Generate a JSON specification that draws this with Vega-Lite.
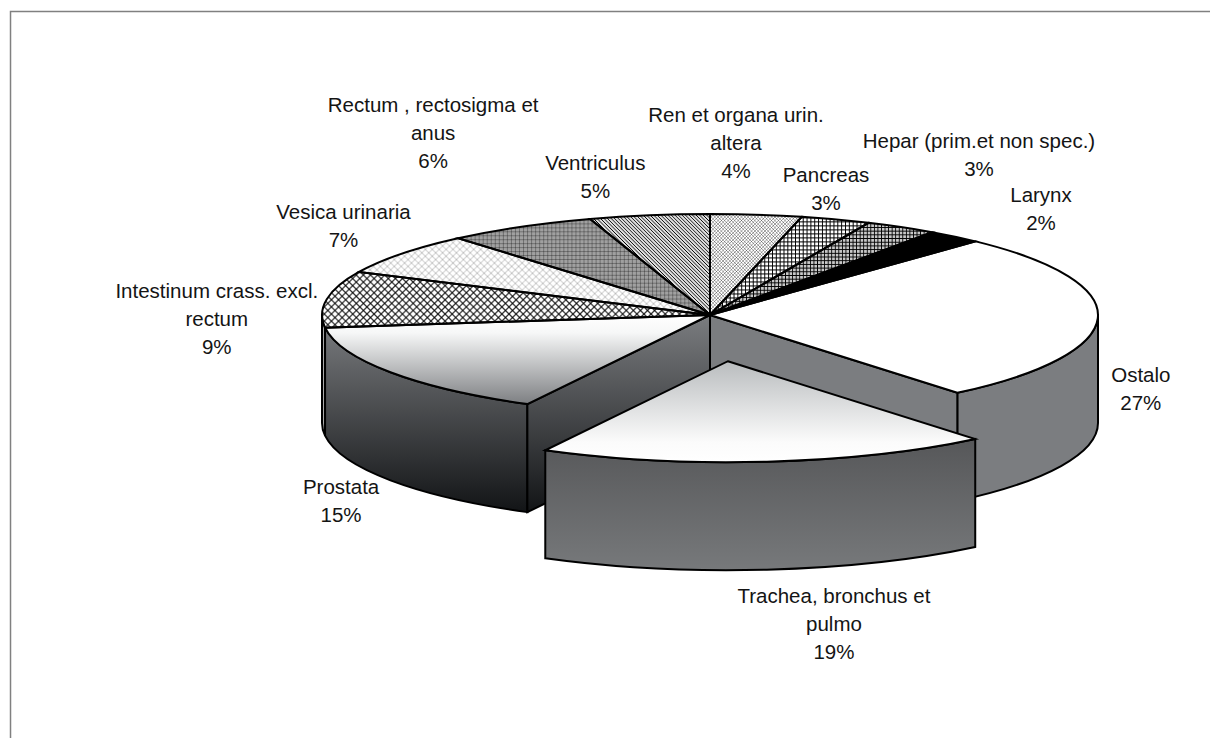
{"$schema":"https://vega.github.io/schema/vega-lite/v6.json","width":1210,"height":738,"padding":0,"autosize":"none","background":"white","view":{"stroke":null},
"config":{"point":{"opacity":1,"filled":true,"size":602176,"strokeWidth":2,"strokeJoin":"miter"},"text":{"font":"Liberation Sans","fontSize":20.5,"lineHeight":28,"lineBreak":"\n","baseline":"middle","align":"center","fill":"#141414"}},
"params":[{"name":"s","value":[
{"offset":0,"color":"#0000"},{"offset":0.004,"color":"#000"},{"offset":0.008,"color":"#0000"},
{"offset":0.016,"color":"#0000"},{"offset":0.02,"color":"#000"},{"offset":0.024,"color":"#0000"},
{"offset":0.032,"color":"#0000"},{"offset":0.036,"color":"#000"},{"offset":0.04,"color":"#0000"},
{"offset":0.048,"color":"#0000"},{"offset":0.052,"color":"#000"},{"offset":0.056,"color":"#0000"},
{"offset":0.064,"color":"#0000"},{"offset":0.068,"color":"#000"},{"offset":0.072,"color":"#0000"},
{"offset":0.08,"color":"#0000"},{"offset":0.084,"color":"#000"},{"offset":0.088,"color":"#0000"},
{"offset":0.096,"color":"#0000"},{"offset":0.1,"color":"#000"},{"offset":0.104,"color":"#0000"},
{"offset":0.112,"color":"#0000"},{"offset":0.116,"color":"#000"},{"offset":0.12,"color":"#0000"},
{"offset":0.128,"color":"#0000"},{"offset":0.132,"color":"#000"},{"offset":0.136,"color":"#0000"},
{"offset":0.144,"color":"#0000"},{"offset":0.148,"color":"#000"},{"offset":0.152,"color":"#0000"},
{"offset":0.16,"color":"#0000"},{"offset":0.164,"color":"#000"},{"offset":0.168,"color":"#0000"},
{"offset":0.176,"color":"#0000"},{"offset":0.18,"color":"#000"},{"offset":0.184,"color":"#0000"},
{"offset":0.192,"color":"#0000"},{"offset":0.196,"color":"#000"},{"offset":0.2,"color":"#0000"},
{"offset":0.208,"color":"#0000"},{"offset":0.212,"color":"#000"},{"offset":0.216,"color":"#0000"},
{"offset":0.224,"color":"#0000"},{"offset":0.228,"color":"#000"},{"offset":0.232,"color":"#0000"},
{"offset":0.24,"color":"#0000"},{"offset":0.244,"color":"#000"},{"offset":0.248,"color":"#0000"},
{"offset":0.256,"color":"#0000"},{"offset":0.26,"color":"#000"},{"offset":0.264,"color":"#0000"},
{"offset":0.272,"color":"#0000"},{"offset":0.276,"color":"#000"},{"offset":0.28,"color":"#0000"},
{"offset":0.288,"color":"#0000"},{"offset":0.292,"color":"#000"},{"offset":0.296,"color":"#0000"},
{"offset":0.304,"color":"#0000"},{"offset":0.308,"color":"#000"},{"offset":0.312,"color":"#0000"},
{"offset":0.32,"color":"#0000"},{"offset":0.324,"color":"#000"},{"offset":0.328,"color":"#0000"},
{"offset":0.336,"color":"#0000"},{"offset":0.34,"color":"#000"},{"offset":0.344,"color":"#0000"},
{"offset":0.352,"color":"#0000"},{"offset":0.356,"color":"#000"},{"offset":0.36,"color":"#0000"},
{"offset":0.368,"color":"#0000"},{"offset":0.372,"color":"#000"},{"offset":0.376,"color":"#0000"},
{"offset":0.384,"color":"#0000"},{"offset":0.388,"color":"#000"},{"offset":0.392,"color":"#0000"},
{"offset":0.4,"color":"#0000"},{"offset":0.404,"color":"#000"},{"offset":0.408,"color":"#0000"},
{"offset":0.416,"color":"#0000"},{"offset":0.42,"color":"#000"},{"offset":0.424,"color":"#0000"},
{"offset":0.432,"color":"#0000"},{"offset":0.436,"color":"#000"},{"offset":0.44,"color":"#0000"},
{"offset":0.448,"color":"#0000"},{"offset":0.452,"color":"#000"},{"offset":0.456,"color":"#0000"},
{"offset":0.464,"color":"#0000"},{"offset":0.468,"color":"#000"},{"offset":0.472,"color":"#0000"},
{"offset":0.48,"color":"#0000"},{"offset":0.484,"color":"#000"},{"offset":0.488,"color":"#0000"},
{"offset":0.496,"color":"#0000"},{"offset":0.5,"color":"#000"},{"offset":0.504,"color":"#0000"},
{"offset":0.512,"color":"#0000"},{"offset":0.516,"color":"#000"},{"offset":0.52,"color":"#0000"},
{"offset":0.528,"color":"#0000"},{"offset":0.532,"color":"#000"},{"offset":0.536,"color":"#0000"},
{"offset":0.544,"color":"#0000"},{"offset":0.548,"color":"#000"},{"offset":0.552,"color":"#0000"},
{"offset":0.56,"color":"#0000"},{"offset":0.564,"color":"#000"},{"offset":0.568,"color":"#0000"},
{"offset":0.576,"color":"#0000"},{"offset":0.58,"color":"#000"},{"offset":0.584,"color":"#0000"},
{"offset":0.592,"color":"#0000"},{"offset":0.596,"color":"#000"},{"offset":0.6,"color":"#0000"},
{"offset":0.608,"color":"#0000"},{"offset":0.612,"color":"#000"},{"offset":0.616,"color":"#0000"},
{"offset":0.624,"color":"#0000"},{"offset":0.628,"color":"#000"},{"offset":0.632,"color":"#0000"},
{"offset":0.64,"color":"#0000"},{"offset":0.644,"color":"#000"},{"offset":0.648,"color":"#0000"},
{"offset":0.656,"color":"#0000"},{"offset":0.66,"color":"#000"},{"offset":0.664,"color":"#0000"},
{"offset":0.672,"color":"#0000"},{"offset":0.676,"color":"#000"},{"offset":0.68,"color":"#0000"},
{"offset":0.688,"color":"#0000"},{"offset":0.692,"color":"#000"},{"offset":0.696,"color":"#0000"},
{"offset":0.704,"color":"#0000"},{"offset":0.708,"color":"#000"},{"offset":0.712,"color":"#0000"},
{"offset":0.72,"color":"#0000"},{"offset":0.724,"color":"#000"},{"offset":0.728,"color":"#0000"},
{"offset":0.736,"color":"#0000"},{"offset":0.74,"color":"#000"},{"offset":0.744,"color":"#0000"},
{"offset":0.752,"color":"#0000"},{"offset":0.756,"color":"#000"},{"offset":0.76,"color":"#0000"},
{"offset":0.768,"color":"#0000"},{"offset":0.772,"color":"#000"},{"offset":0.776,"color":"#0000"},
{"offset":0.784,"color":"#0000"},{"offset":0.788,"color":"#000"},{"offset":0.792,"color":"#0000"},
{"offset":0.8,"color":"#0000"},{"offset":0.804,"color":"#000"},{"offset":0.808,"color":"#0000"},
{"offset":0.816,"color":"#0000"},{"offset":0.82,"color":"#000"},{"offset":0.824,"color":"#0000"},
{"offset":0.832,"color":"#0000"},{"offset":0.836,"color":"#000"},{"offset":0.84,"color":"#0000"},
{"offset":0.848,"color":"#0000"},{"offset":0.852,"color":"#000"},{"offset":0.856,"color":"#0000"},
{"offset":0.864,"color":"#0000"},{"offset":0.868,"color":"#000"},{"offset":0.872,"color":"#0000"},
{"offset":0.88,"color":"#0000"},{"offset":0.884,"color":"#000"},{"offset":0.888,"color":"#0000"},
{"offset":0.896,"color":"#0000"},{"offset":0.9,"color":"#000"},{"offset":0.904,"color":"#0000"},
{"offset":0.912,"color":"#0000"},{"offset":0.916,"color":"#000"},{"offset":0.92,"color":"#0000"},
{"offset":0.928,"color":"#0000"},{"offset":0.932,"color":"#000"},{"offset":0.936,"color":"#0000"},
{"offset":0.944,"color":"#0000"},{"offset":0.948,"color":"#000"},{"offset":0.952,"color":"#0000"},
{"offset":0.96,"color":"#0000"},{"offset":0.964,"color":"#000"},{"offset":0.968,"color":"#0000"},
{"offset":0.976,"color":"#0000"},{"offset":0.98,"color":"#000"},{"offset":0.984,"color":"#0000"},
{"offset":0.992,"color":"#0000"},{"offset":0.996,"color":"#000"},{"offset":1,"color":"#0000"}
]}],
"data":{"values":[
{"i":0,"name":"Ren et organa urin.\naltera","pct":3.8},
{"i":1,"name":"Pancreas","pct":2.9},
{"i":2,"name":"Hepar (prim.et non spec.)","pct":3},
{"i":3,"name":"Larynx","pct":2.3},
{"i":4,"name":"Ostalo","pct":27},
{"i":5,"name":"Trachea, bronchus et\npulmo","pct":18.8},
{"i":6,"name":"Prostata","pct":15.2},
{"i":7,"name":"Intestinum crass. excl.\nrectum","pct":9},
{"i":8,"name":"Vesica urinaria","pct":6.75},
{"i":9,"name":"Rectum , rectosigma et\nanus","pct":6.25},
{"i":10,"name":"Ventriculus","pct":5}
]},
"transform":[
{"window":[{"op":"sum","field":"pct","as":"end"}],"sort":[{"field":"i"}]},
{"calculate":"2*PI*(datum.end-datum.pct)/100","as":"t0"},
{"calculate":"2*PI*datum.end/100","as":"t1"},
{"calculate":"(datum.t0+datum.t1)/2","as":"mid"},
{"calculate":"datum.i==5?0.46:0","as":"ex"},
{"calculate":"datum.ex*sin(datum.mid)","as":"ox"},
{"calculate":"-datum.ex*0.2603*cos(datum.mid)","as":"oy"},
{"calculate":"max(datum.t0,PI/2)","as":"w0"},
{"calculate":"min(datum.t1,3*PI/2)","as":"w1"},
{"calculate":"round(1e5*datum.ox)/1e5","as":"cx"},
{"calculate":"round(1e5*datum.oy)/1e5","as":"cy"},
{"calculate":"round(1e5*(datum.oy+0.2784))/1e5","as":"cyd"},
{"calculate":"round(1e5*(datum.ox+sin(datum.t0)))/1e5","as":"x0"},
{"calculate":"round(1e5*(datum.oy-0.2603*cos(datum.t0)))/1e5","as":"y0"},
{"calculate":"round(1e5*(datum.oy-0.2603*cos(datum.t0)+0.2784))/1e5","as":"y0d"},
{"calculate":"round(1e5*(datum.ox+sin(datum.t1)))/1e5","as":"x1"},
{"calculate":"round(1e5*(datum.oy-0.2603*cos(datum.t1)))/1e5","as":"y1"},
{"calculate":"round(1e5*(datum.oy-0.2603*cos(datum.t1)+0.2784))/1e5","as":"y1d"},
{"calculate":"round(1e5*(datum.ox+sin(datum.w0)))/1e5","as":"wx0"},
{"calculate":"round(1e5*(datum.oy-0.2603*cos(datum.w0)))/1e5","as":"wy0"},
{"calculate":"round(1e5*(datum.oy-0.2603*cos(datum.w0)+0.2784))/1e5","as":"wy0d"},
{"calculate":"round(1e5*(datum.ox+sin(datum.w1)))/1e5","as":"wx1"},
{"calculate":"round(1e5*(datum.oy-0.2603*cos(datum.w1)))/1e5","as":"wy1"},
{"calculate":"round(1e5*(datum.oy-0.2603*cos(datum.w1)+0.2784))/1e5","as":"wy1d"},
{"calculate":"'M'+datum.cx+','+datum.cy+'L'+datum.x0+','+datum.y0+'A1,0.2603,0,0,1,'+datum.x1+','+datum.y1+'Z'","as":"top"},
{"calculate":"'M'+datum.wx0+','+datum.wy0+'A1,0.2603,0,0,1,'+datum.wx1+','+datum.wy1+'L'+datum.wx1+','+datum.wy1d+'A1,0.2603,0,0,0,'+datum.wx0+','+datum.wy0d+'Z'","as":"wall"},
{"calculate":"'M'+datum.cx+','+datum.cy+'L'+datum.x0+','+datum.y0+'L'+datum.x0+','+datum.y0d+'L'+datum.cx+','+datum.cyd+'Z'","as":"cut0"},
{"calculate":"'M'+datum.cx+','+datum.cy+'L'+datum.x1+','+datum.y1+'L'+datum.x1+','+datum.y1d+'L'+datum.cx+','+datum.cyd+'Z'","as":"cut1"},
{"calculate":"388*sin(datum.mid)","as":"lx"},
{"calculate":"101*cos(datum.mid)","as":"ly"},
{"calculate":"datum.name+'\\n'+round(datum.pct)+'%'","as":"label"}
],
"layer":[
{"encoding":{
"x":{"datum":0,"type":"quantitative","scale":{"domain":[-710,500]},"axis":null},
"y":{"datum":0,"type":"quantitative","scale":{"domain":[-423,315]},"axis":null}
},"layer":[
{"transform":[{"filter":"datum.i==0"}],"mark":{"type":"point","shape":"M-1.8028,1.0902L-1.8028,-0.7822L1.2887,-0.7822","fill":"transparent","stroke":"#808080","strokeWidth":1.5}},
{"transform":[{"filter":"datum.i==4"}],"mark":{"type":"point","fill":"#7b7d80","stroke":"#000"},"encoding":{"shape":{"field":"wall","type":"nominal","scale":null}}},
{"transform":[{"filter":"datum.i==7"}],"mark":{"type":"point","fill":"#aaaaaa","stroke":"#000"},"encoding":{"shape":{"field":"wall","type":"nominal","scale":null}}},
{"transform":[{"filter":"datum.i==6"}],"mark":{"type":"point","fill":{"gradient":"linear","x1":1,"y1":0,"x2":1,"y2":1,"stops":[{"offset":0,"color":"#76787b"},{"offset":1,"color":"#121416"}]},"stroke":"#000"},"encoding":{"shape":{"field":"wall","type":"nominal","scale":null}}},
{"transform":[{"filter":"datum.i==4"}],"mark":{"type":"point","fill":"#7b7d80","stroke":"#000"},"encoding":{"shape":{"field":"cut1","type":"nominal","scale":null}}},
{"transform":[{"filter":"datum.i==6"}],"mark":{"type":"point","fill":{"gradient":"linear","x1":1,"y1":0,"x2":1,"y2":1,"stops":[{"offset":0,"color":"#7b7d80"},{"offset":1,"color":"#121416"}]},"stroke":"#000"},"encoding":{"shape":{"field":"cut0","type":"nominal","scale":null}}},
{"transform":[{"filter":"datum.i!=5"}],"mark":{"type":"point"},"encoding":{"shape":{"field":"top","type":"nominal","scale":null},"fill":{"field":"i","type":"nominal","legend":null,"scale":{"domain":[0,1,2,3,4,6,7,8,9,10],"range":["#ffffff","#ffffff","#c8c8c8","#000000","#ffffff","#ffffff","#ffffff","#ffffff","#a0a0a0","#dddddd"]}}}},
{"transform":[{"filter":"datum.i==0"}],"mark":{"type":"point","opacity":0.4,"fill":{"expr":"{gradient:'linear',x1:0,y1:0,x2:1.088,y2:1.139,stops:s}"}},"encoding":{"shape":{"field":"top","type":"nominal","scale":null}}},
{"transform":[{"filter":"datum.i==0"}],"mark":{"type":"point","opacity":0.4,"fill":{"expr":"{gradient:'linear',x1:0,y1:1,x2:1.088,y2:-0.139,stops:s}"}},"encoding":{"shape":{"field":"top","type":"nominal","scale":null}}},
{"transform":[{"filter":"datum.i==1"}],"mark":{"type":"point","fill":{"expr":"{gradient:'linear',x1:0,y1:0,x2:1.515,y2:0,stops:s}"}},"encoding":{"shape":{"field":"top","type":"nominal","scale":null}}},
{"transform":[{"filter":"datum.i==1"}],"mark":{"type":"point","fill":{"expr":"{gradient:'linear',x1:1,y1:0,x2:1,y2:2.551,stops:s}"}},"encoding":{"shape":{"field":"top","type":"nominal","scale":null}}},
{"transform":[{"filter":"datum.i==2"}],"mark":{"type":"point","fill":{"expr":"{gradient:'linear',x1:0,y1:0,x2:1,y2:0,stops:s}"}},"encoding":{"shape":{"field":"top","type":"nominal","scale":null}}},
{"transform":[{"filter":"datum.i==2"}],"mark":{"type":"point","fill":{"expr":"{gradient:'linear',x1:1,y1:0,x2:1,y2:2.505,stops:s}"}},"encoding":{"shape":{"field":"top","type":"nominal","scale":null}}},
{"transform":[{"filter":"datum.i==7"}],"mark":{"type":"point","opacity":0.8,"fill":{"expr":"{gradient:'linear',x1:0,y1:0,x2:1.121,y2:0.161,stops:s}"}},"encoding":{"shape":{"field":"top","type":"nominal","scale":null}}},
{"transform":[{"filter":"datum.i==7"}],"mark":{"type":"point","opacity":0.8,"fill":{"expr":"{gradient:'linear',x1:0,y1:1,x2:1.121,y2:0.839,stops:s}"}},"encoding":{"shape":{"field":"top","type":"nominal","scale":null}}},
{"transform":[{"filter":"datum.i==8"}],"mark":{"type":"point","opacity":0.15,"fill":{"expr":"{gradient:'linear',x1:0,y1:0,x2:1.173,y2:0.261,stops:s}"}},"encoding":{"shape":{"field":"top","type":"nominal","scale":null}}},
{"transform":[{"filter":"datum.i==8"}],"mark":{"type":"point","opacity":0.15,"fill":{"expr":"{gradient:'linear',x1:0,y1:1,x2:1.173,y2:0.739,stops:s}"}},"encoding":{"shape":{"field":"top","type":"nominal","scale":null}}},
{"transform":[{"filter":"datum.i==9"}],"mark":{"type":"point","opacity":0.3,"fill":{"expr":"{gradient:'linear',x1:0,y1:0,x2:1,y2:0,stops:s}"}},"encoding":{"shape":{"field":"top","type":"nominal","scale":null}}},
{"transform":[{"filter":"datum.i==9"}],"mark":{"type":"point","opacity":0.3,"fill":{"expr":"{gradient:'linear',x1:1,y1:0,x2:1,y2:2.573,stops:s}"}},"encoding":{"shape":{"field":"top","type":"nominal","scale":null}}},
{"transform":[{"filter":"datum.i==10"}],"mark":{"type":"point","fill":{"expr":"{gradient:'linear',x1:0,y1:1,x2:1.078,y2:0.093,stops:s}"}},"encoding":{"shape":{"field":"top","type":"nominal","scale":null}}},
{"transform":[{"filter":"datum.i==6"}],"mark":{"type":"point","fill":{"gradient":"linear","x1":1,"y1":0,"x2":1,"y2":1,"stops":[{"offset":0,"color":"#ffffff"},{"offset":0.2,"color":"#f6f7f7"},{"offset":1,"color":"#7d7f82"}]}},"encoding":{"shape":{"field":"top","type":"nominal","scale":null}}},
{"transform":[{"filter":"datum.i!=5"}],"mark":{"type":"point","fill":"transparent","stroke":"#000"},"encoding":{"shape":{"field":"top","type":"nominal","scale":null}}},
{"transform":[{"filter":"datum.i==5"}],"mark":{"type":"point","fill":{"gradient":"linear","x1":1,"y1":0,"x2":1,"y2":1,"stops":[{"offset":0,"color":"#565759"},{"offset":1,"color":"#77797b"}]},"stroke":"#000"},"encoding":{"shape":{"field":"wall","type":"nominal","scale":null}}},
{"transform":[{"filter":"datum.i==5"}],"mark":{"type":"point","stroke":"#000","fill":{"gradient":"linear","x1":1,"y1":0,"x2":1,"y2":1,"stops":[{"offset":0,"color":"#b9bcbe"},{"offset":0.8,"color":"#fbfbfb"},{"offset":1,"color":"#ffffff"}]}},"encoding":{"shape":{"field":"top","type":"nominal","scale":null}}}
]},
{"encoding":{
"x":{"field":"lx","type":"quantitative","scale":{"domain":[-710,500]},"axis":null},
"y":{"field":"ly","type":"quantitative","scale":{"domain":[-423,315]},"axis":null},
"text":{"field":"label"}
},"layer":[
{"transform":[{"filter":"datum.i==0"}],"mark":{"type":"text","dx":-20.2,"dy":-98.8}},
{"transform":[{"filter":"datum.i==1"}],"mark":{"type":"text","dx":-9.7,"dy":-43.4}},
{"transform":[{"filter":"datum.i==2"}],"mark":{"type":"text","dx":77.8,"dy":-85}},
{"transform":[{"filter":"datum.i==3"}],"mark":{"type":"text","dx":86.5,"dy":-40.4}},
{"transform":[{"filter":"datum.i==4"}],"mark":{"type":"text","dx":43,"dy":58}},
{"transform":[{"filter":"datum.i==5"}],"mark":{"type":"text","dx":85,"dy":182}},
{"transform":[{"filter":"datum.i==6"}],"mark":{"type":"text","dx":-49.4,"dy":115.5}},
{"transform":[{"filter":"datum.i==7"}],"mark":{"type":"text","dx":-110,"dy":-7}},
{"transform":[{"filter":"datum.i==8"}],"mark":{"type":"text","dx":-58.1,"dy":-40.4}},
{"transform":[{"filter":"datum.i==9"}],"mark":{"type":"text","dx":-87.3,"dy":-121.1}},
{"transform":[{"filter":"datum.i==10"}],"mark":{"type":"text","dx":-54,"dy":-51}}
]}
]}
